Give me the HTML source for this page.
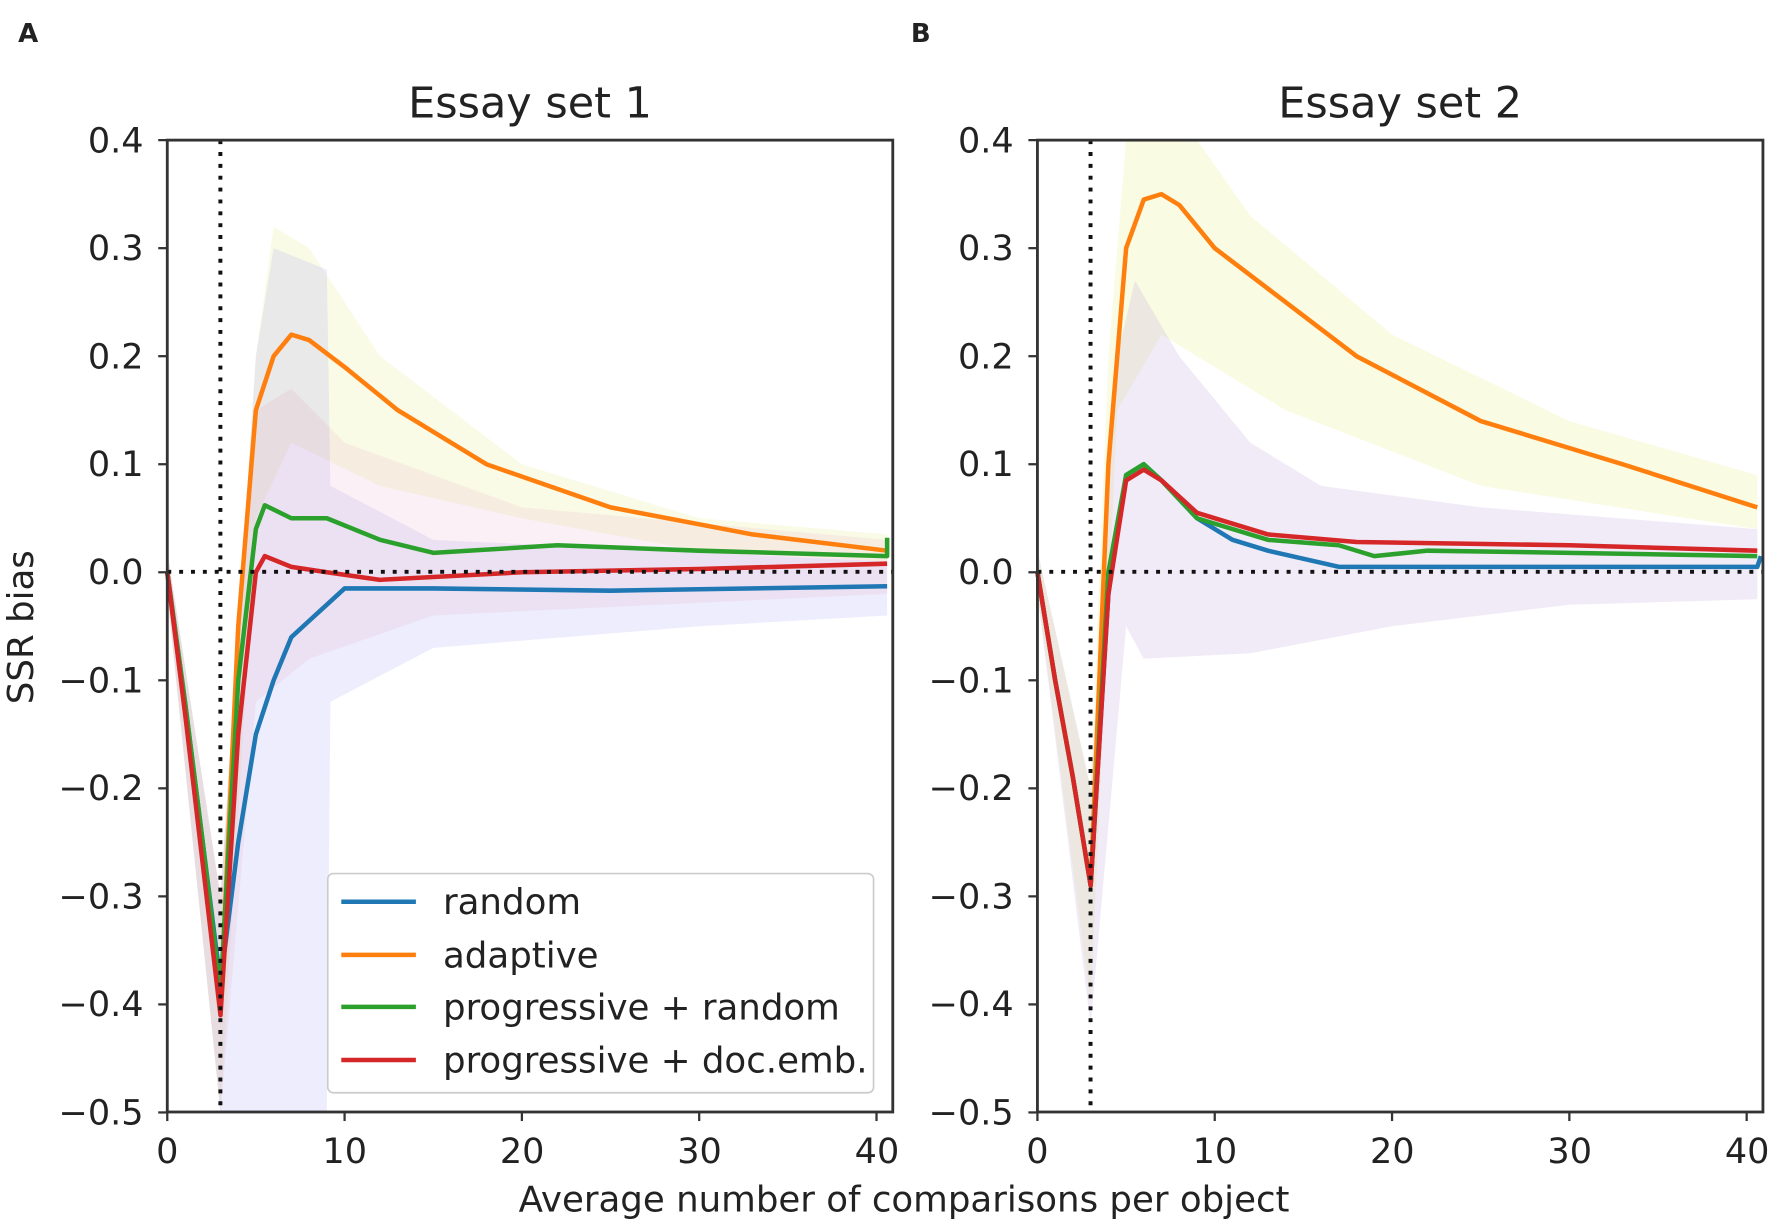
<!DOCTYPE html>
<html><head><meta charset="utf-8"><style>
html,body{margin:0;padding:0;background:#fff}
svg{display:block}
text{font-family:"DejaVu Sans","Liberation Sans",sans-serif;fill:#222}
</style></head><body>
<svg id="s" width="1772" height="1225" viewBox="0 0 1568 1084" xmlns="http://www.w3.org/2000/svg">
<rect width="1568" height="1084" fill="#fff"/>
<g id="bands"></g>
<g id="lines"></g>
<line x1="195" y1="124" x2="195" y2="984" stroke="#111" stroke-width="3.5" stroke-dasharray="3.5,7"/>
<line x1="148" y1="506" x2="790" y2="506" stroke="#111" stroke-width="3.5" stroke-dasharray="3.5,7"/>
<line x1="965" y1="124" x2="965" y2="984" stroke="#111" stroke-width="3.5" stroke-dasharray="3.5,7"/>
<line x1="918" y1="506" x2="1560" y2="506" stroke="#111" stroke-width="3.5" stroke-dasharray="3.5,7"/>
<rect x="148" y="124" width="642" height="860" fill="none" stroke="#333" stroke-width="2.5"/>
<rect x="918" y="124" width="642" height="860" fill="none" stroke="#333" stroke-width="2.5"/>
<g id="ticks" stroke="#333" stroke-width="2"></g>
<text x="16" y="37" font-size="23" font-weight="bold" font-family="Liberation Sans">A</text>
<text x="806" y="37" font-size="23" font-weight="bold" font-family="Liberation Sans">B</text>
<text x="469" y="104" font-size="38" text-anchor="middle">Essay set 1</text>
<text x="1239" y="104" font-size="38" text-anchor="middle">Essay set 2</text>
<text x="800" y="1072" font-size="31.5" text-anchor="middle">Average number of comparisons per object</text>
<text transform="translate(29,555) rotate(-90)" font-size="31.5" text-anchor="middle">SSR bias</text>
<g font-size="31" text-anchor="end">
<text x="127" y="135">0.4</text><text x="127" y="230">0.3</text><text x="127" y="326">0.2</text><text x="127" y="421">0.1</text><text x="127" y="517">0.0</text><text x="127" y="613">−0.1</text><text x="127" y="708">−0.2</text><text x="127" y="804">−0.3</text><text x="127" y="899">−0.4</text><text x="127" y="995">−0.5</text>
<text x="897" y="135">0.4</text><text x="897" y="230">0.3</text><text x="897" y="326">0.2</text><text x="897" y="421">0.1</text><text x="897" y="517">0.0</text><text x="897" y="613">−0.1</text><text x="897" y="708">−0.2</text><text x="897" y="804">−0.3</text><text x="897" y="899">−0.4</text><text x="897" y="995">−0.5</text>
</g>
<g font-size="31" text-anchor="middle">
<text x="148" y="1029">0</text><text x="305" y="1029">10</text><text x="462" y="1029">20</text><text x="619" y="1029">30</text><text x="776" y="1029">40</text>
<text x="918" y="1029">0</text><text x="1075" y="1029">10</text><text x="1232" y="1029">20</text><text x="1389" y="1029">30</text><text x="1546" y="1029">40</text>
</g>
<rect x="290" y="773" width="483" height="194" rx="5" fill="#fff" fill-opacity="0.85" stroke="#ccc" stroke-width="1.5"/>
<line x1="302" y1="798" x2="368" y2="798" stroke="#1f77b4" stroke-width="4"/>
<line x1="302" y1="845" x2="368" y2="845" stroke="#ff7f0e" stroke-width="4"/>
<line x1="302" y1="891" x2="368" y2="891" stroke="#2ca02c" stroke-width="4"/>
<line x1="302" y1="938" x2="368" y2="938" stroke="#d62728" stroke-width="4"/>
<g font-size="31.5"><text x="392" y="809">random</text><text x="392" y="856">adaptive</text><text x="392" y="902">progressive + random</text><text x="392" y="949">progressive + doc.emb.</text></g>
</svg>
<script>
const NS="http://www.w3.org/2000/svg";
function X(p,t){return (p?918:148)+15.69*t}
function Y(v){return 124+(0.4-v)*956}
function pts(p,a){return a.map(d=>X(p,d[0]).toFixed(1)+","+Y(d[1]).toFixed(1)).join(" ")}
function line(p,a,c){const e=document.createElementNS(NS,"polyline");e.setAttribute("points",pts(p,a));e.setAttribute("fill","none");e.setAttribute("stroke",c);e.setAttribute("stroke-width","4");e.setAttribute("stroke-linejoin","round");document.getElementById("lines").appendChild(e)}
function band(p,up,lo,c,o){const e=document.createElementNS(NS,"polygon");e.setAttribute("points",pts(p,up)+" "+pts(p,lo.slice().reverse()));e.setAttribute("fill",c);e.setAttribute("fill-opacity",o);document.getElementById("bands").appendChild(e)}
band(0,[[0,0.02],[3,-0.3],[5,0.2],[6,0.32],[8,0.3],[12,0.2],[20,0.1],[30,0.05],[40.6,0.035]],[[0,-0.02],[3,-0.5],[5,0.05],[7,0.12],[12,0.08],[20,0.05],[30,0.02],[40.6,0.01]],"#e8ef9a",0.25);
band(0,[[0,0.02],[3,-0.3],[5,0.2],[6,0.3],[9,0.28],[9.2,0.08],[15,0.03],[40.6,0.01]],[[0,-0.02],[3,-0.5],[9,-0.5],[9.2,-0.12],[15,-0.07],[30,-0.05],[40.6,-0.04]],"#9090f0",0.16);
band(0,[[0,0.02],[3,-0.3],[5,0.15],[7,0.17],[10,0.12],[20,0.06],[40.6,0.03]],[[0,-0.02],[3,-0.5],[5,-0.12],[8,-0.08],[15,-0.04],[40.6,-0.02]],"#e8a0c0",0.16);
band(1,[[0,0.02],[3,-0.2],[4,0.2],[5,0.4],[9,0.4],[12,0.33],[20,0.22],[30,0.14],[40.6,0.09]],[[0,-0.02],[3,-0.4],[4.5,0.15],[7,0.22],[14,0.15],[25,0.08],[40.6,0.04]],"#e8ef9a",0.28);
band(1,[[0,0.02],[3,-0.2],[4.5,0.2],[5.5,0.27],[8,0.2],[12,0.12],[16,0.08],[25,0.06],[40.6,0.04]],[[0,-0.02],[3,-0.42],[5,-0.05],[6,-0.08],[12,-0.075],[20,-0.05],[30,-0.03],[40.6,-0.025]],"#b090d0",0.18);
line(0,[[0,0],[1,-0.12],[2,-0.25],[3,-0.38],[4,-0.25],[5,-0.15],[6,-0.1],[7,-0.06],[8,-0.045],[9,-0.03],[10,-0.015],[15,-0.015],[25,-0.017],[40.6,-0.013]],"#1f77b4");
line(0,[[0,0],[1,-0.13],[2,-0.26],[3,-0.40],[4,-0.05],[5,0.15],[6,0.2],[7,0.22],[8,0.215],[10,0.19],[13,0.15],[18,0.1],[25,0.06],[33,0.035],[40.6,0.02]],"#ff7f0e");
line(0,[[0,0],[1,-0.12],[2,-0.25],[3,-0.39],[4,-0.1],[5,0.04],[5.5,0.062],[7,0.05],[9,0.05],[12,0.03],[15,0.018],[22,0.025],[30,0.02],[40.6,0.015],[40.6,0.032]],"#2ca02c");
line(0,[[0,0],[1,-0.13],[2,-0.27],[3,-0.41],[4,-0.15],[5,0],[5.5,0.015],[7,0.005],[9,0],[12,-0.007],[20,0],[30,0.003],[40.6,0.008]],"#d62728");
line(1,[[0,0],[1,-0.1],[2,-0.19],[3,-0.29],[4,-0.02],[5,0.09],[6,0.1],[7,0.085],[9,0.05],[11,0.03],[13,0.02],[17,0.005],[30,0.005],[40.6,0.005],[40.8,0.015]],"#1f77b4");
line(1,[[0,0],[1,-0.1],[2,-0.19],[3,-0.29],[4,0.1],[5,0.3],[6,0.345],[7,0.35],[8,0.34],[10,0.3],[14,0.25],[18,0.2],[25,0.14],[33,0.1],[40.6,0.06]],"#ff7f0e");
line(1,[[0,0],[1,-0.1],[2,-0.19],[3,-0.29],[4,0],[5,0.09],[6,0.1],[7,0.085],[9,0.05],[13,0.03],[17,0.025],[19,0.015],[22,0.02],[30,0.018],[40.6,0.015]],"#2ca02c");
line(1,[[0,0],[1,-0.1],[2,-0.19],[3,-0.29],[4,-0.02],[5,0.085],[6,0.095],[7,0.085],[9,0.055],[13,0.035],[18,0.028],[30,0.025],[40.6,0.02]],"#d62728");
const tg=document.getElementById("ticks");
function L(a,b,c,d){const e=document.createElementNS(NS,"line");e.setAttribute("x1",a);e.setAttribute("y1",b);e.setAttribute("x2",c);e.setAttribute("y2",d);tg.appendChild(e)}
for(const p of [0,1]){const x0=p?918:148;for(let i=0;i<10;i++){const y=124+i*95.6;L(x0-8,y,x0,y)}for(let t=0;t<=40;t+=10){const x=X(p,t);L(x,984,x,992)}}
</script>
</body></html>
